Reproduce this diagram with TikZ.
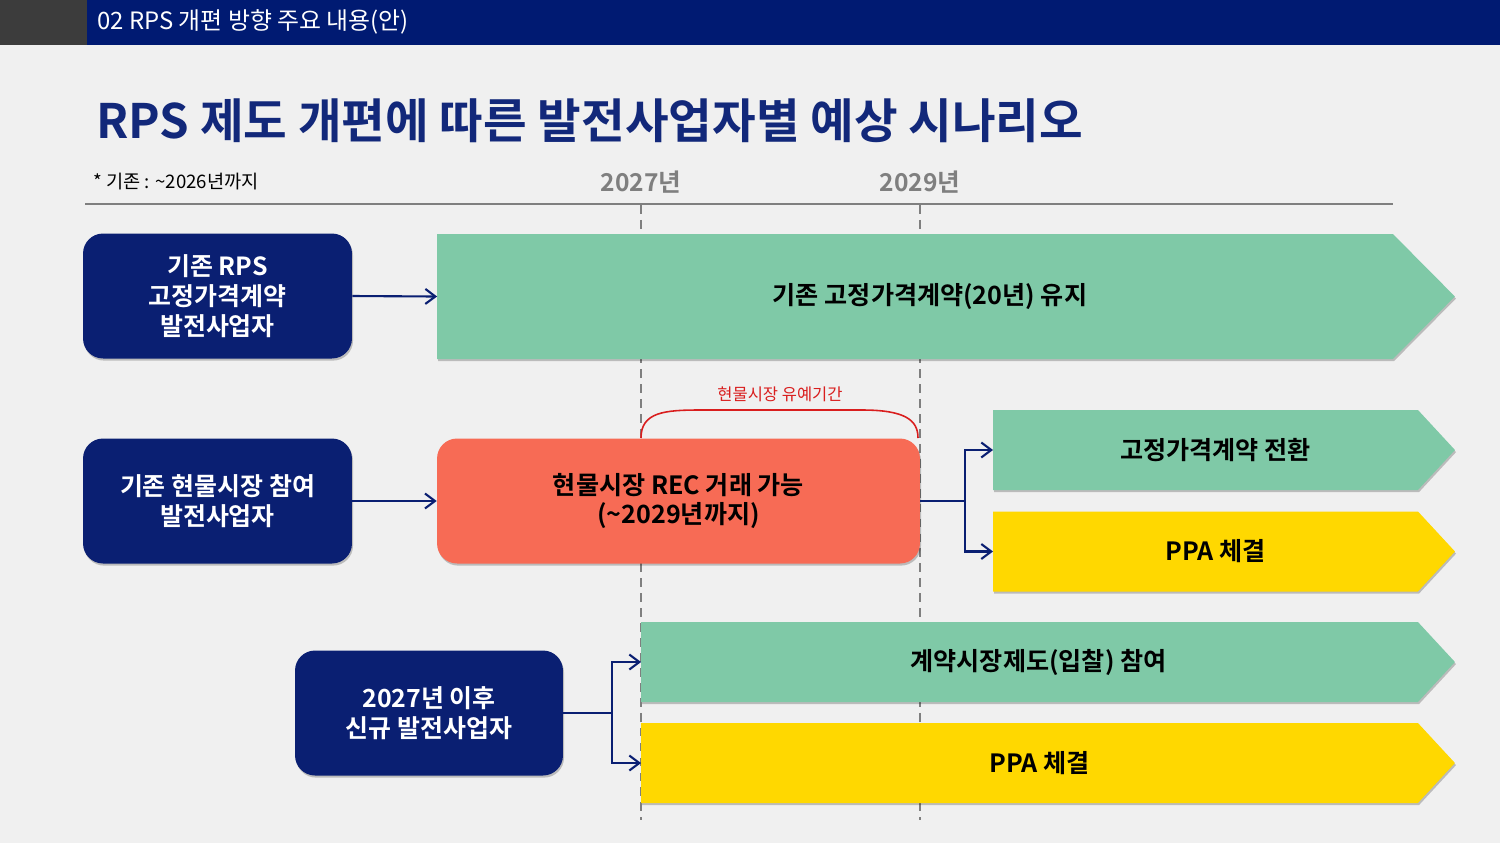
\documentclass[tikz,border=0pt]{standalone}
\usepackage{fontspec}
\setmainfont{Noto Sans CJK KR}[BoldFont={Noto Sans CJK KR Bold}]
\usetikzlibrary{shadows,arrows.meta}
\definecolor{bgc}{HTML}{F0F0F0}
\definecolor{hdrnavy}{HTML}{001A72}
\definecolor{hdrgray}{HTML}{3C3C3C}
\definecolor{boxnavy}{HTML}{0A1F72}
\definecolor{titlec}{HTML}{12287A}
\definecolor{greenc}{HTML}{7FC9A7}
\definecolor{yellowc}{HTML}{FFD800}
\definecolor{redc}{HTML}{F76B55}
\definecolor{gline}{HTML}{7F7F7F}
\definecolor{bracec}{HTML}{D91E1E}
\tikzset{
  shad/.style={drop shadow={shadow xshift=0.6pt,shadow yshift=-1.2pt,opacity=0.22,fill=black}},
  nbox/.style={fill=boxnavy,rounded corners=0.4cm,shad,text=white,font=\bfseries\fontsize{14.2}{17}\selectfont,align=center,inner sep=0pt},
  barbody/.style={inner sep=0pt,outer sep=0pt},
  lbl/.style={font=\bfseries\fontsize{14.3}{17}\selectfont,align=center,text=black},
  conn/.style={draw=boxnavy,line width=1.2pt,-{Straight Barb[length=0.2cm,width=0.3cm,line width=1.2pt]}},
  plainconn/.style={draw=boxnavy,line width=1.2pt},
  vdash/.style={draw=gline,line width=1.3pt,dash pattern=on 5pt off 3.5pt},
}
\begin{document}
\begin{tikzpicture}[x=0.02cm,y=-0.02cm]
\useasboundingbox (0,0) rectangle (1500,843);
\fill[bgc] (0,0) rectangle (1500,843);
% header
\fill[hdrgray] (0,0) rectangle (87,45);
\fill[hdrnavy] (87,0) rectangle (1500,45);
\node[anchor=west,text=white,font=\fontsize{13.6}{15}\selectfont,inner sep=0pt] (hdr) at (97,22) {02 RPS 개편 방향 주요 내용(안)};
% title
\node[anchor=west,text=titlec,font=\bfseries\fontsize{27}{32}\selectfont,inner sep=0pt] (title) at (96,121) {RPS 제도 개편에 따른 발전사업자별 예상 시나리오};
\node[anchor=west,font=\fontsize{10.6}{12}\selectfont,inner sep=0pt] (note) at (93,182) {* 기존 : \textasciitilde2026년까지};
\node[text=gline,font=\bfseries\fontsize{14}{16}\selectfont,inner sep=0pt] (y27) at (641,182) {2027년};
\node[text=gline,font=\bfseries\fontsize{14}{16}\selectfont,inner sep=0pt] (y29) at (920,182) {2029년};
% timeline
\draw[gline,line width=1.5pt] (85,204) -- (1393,204);
\draw[vdash] (641,205) -- (641,820);
\draw[vdash] (920,205) -- (920,820);
% brace
\draw[bracec,line width=0.9pt] (641,438) .. controls (641,412) and (665,410) .. (700,410) -- (862,410) .. controls (905,410) and (918,420) .. (918,438);
\node[text=bracec,font=\fontsize{9.4}{11}\selectfont,inner sep=0pt] (bracelbl) at (780,394) {현물시장 유예기간};
% left boxes
\node[nbox,minimum width=5.38cm,minimum height=2.5cm] (b1) at (217.5,296) {기존 RPS\\고정가격계약\\발전사업자};
\node[nbox,minimum width=5.38cm,minimum height=2.5cm] (b2) at (217.5,501) {기존 현물시장 참여\\발전사업자};
\node[nbox,minimum width=5.36cm,minimum height=2.5cm] (b3) at (429,713) {2027년 이후\\신규 발전사업자};
% red box
\node[fill=redc,rounded corners=0.4cm,shad,minimum width=9.66cm,minimum height=2.5cm,lbl,inner sep=0pt] (red) at (678.5,501) {현물시장 REC 거래 가능\\(\textasciitilde2029년까지)};
% bars
\node[barbody,minimum width=19.12cm,minimum height=2.5cm] (g1) at (915,296.5) {};
\node[barbody,minimum width=8.5cm,minimum height=1.6cm] (g2) at (1205.5,450) {};
\node[barbody,minimum width=8.5cm,minimum height=1.6cm] (y3) at (1205.5,551.5) {};
\node[barbody,minimum width=15.54cm,minimum height=1.6cm] (g4) at (1029.5,662) {};
\node[barbody,minimum width=15.54cm,minimum height=1.6cm] (y5) at (1029.5,763) {};
\fill[greenc,shad] (g1.north west) -- (g1.north east) -- ([xshift=1.24cm]g1.east) -- (g1.south east) -- (g1.south west) -- cycle;
\fill[greenc,shad] (g2.north west) -- (g2.north east) -- ([xshift=0.74cm]g2.east) -- (g2.south east) -- (g2.south west) -- cycle;
\fill[yellowc,shad] (y3.north west) -- (y3.north east) -- ([xshift=0.74cm]y3.east) -- (y3.south east) -- (y3.south west) -- cycle;
\fill[greenc,shad] (g4.north west) -- (g4.north east) -- ([xshift=0.74cm]g4.east) -- (g4.south east) -- (g4.south west) -- cycle;
\fill[yellowc,shad] (y5.north west) -- (y5.north east) -- ([xshift=0.74cm]y5.east) -- (y5.south east) -- (y5.south west) -- cycle;
\node[lbl] (g1t) at ([xshift=0.3cm]g1.center) {기존 고정가격계약(20년) 유지};
\node[lbl] (g2t) at ([xshift=0.2cm]g2.center) {고정가격계약 전환};
\node[lbl] (y3t) at ([xshift=0.2cm]y3.center) {PPA 체결};
\node[lbl] (g4t) at ([xshift=0.18cm]g4.center) {계약시장제도(입찰) 참여};
\node[lbl] (y5t) at ([xshift=0.2cm]y5.center) {PPA 체결};
% connectors
\draw[conn] (b1.east) -- (g1.west);
\draw[conn] (b2.east) -- (red.west);
\coordinate (f1) at (965,501);
\draw[plainconn] (red.east) -- (f1);
\draw[conn] (f1) |- (g2.west);
\draw[conn] (f1) |- (y3.west);
\coordinate (f2) at (612,713);
\draw[plainconn] (b3.east) -- (f2);
\draw[conn] (f2) |- (g4.west);
\draw[conn] (f2) |- (y5.west);
\end{tikzpicture}
\end{document}
